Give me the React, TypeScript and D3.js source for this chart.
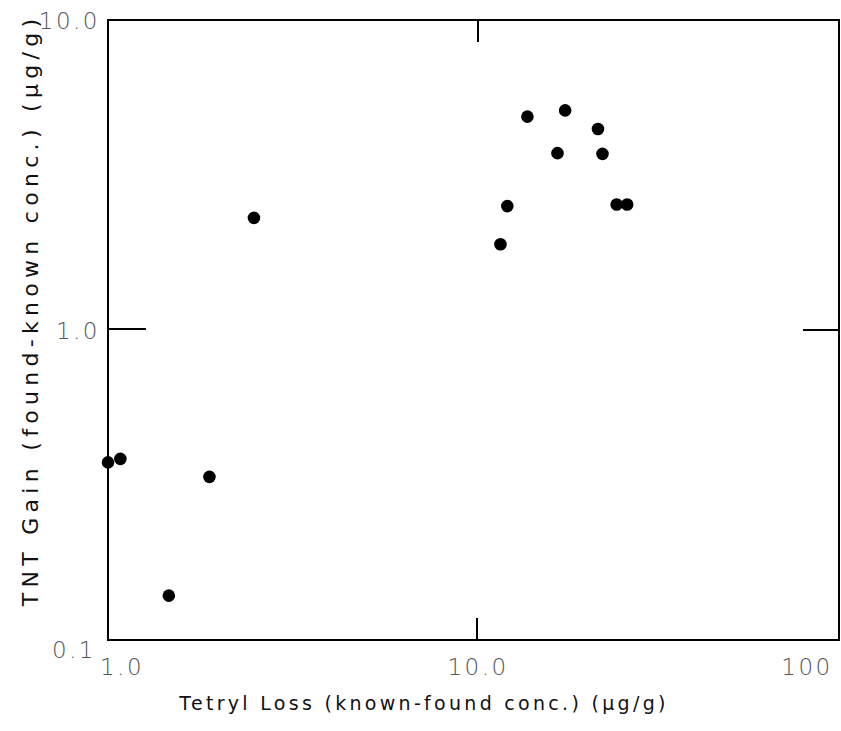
import React from "react";
import * as d3 from "d3";

const tetrylLoss = [1.0, 1.08, 1.46, 1.88, 2.48, 13.6, 17.2, 21.1, 16.4, 21.7, 12.0, 11.5, 23.7, 25.3];
const tntGain = [0.374, 0.384, 0.139, 0.336, 2.3, 4.88, 5.11, 4.45, 3.72, 3.7, 2.51, 1.89, 2.54, 2.54];
const xTickValues = [1, 10, 100];
const xTickLabels = ["1.0", "10.0", "100"];
const yTickValues = [0.1, 1, 10];
const yTickLabels = ["0.1", "1.0", "10.0"];
const xTitle = "Tetryl Loss (known-found conc.) (\u03bcg/g)";
const yTitle = "TNT Gain (found-known conc.) (\u03bcg/g)";

export default function App() {
  const W = 841, H = 731;
  const left = 108, right = 839, top = 20, bottom = 640;
  const x = d3.scaleLog().domain([1, 100]).range([left, 848]);
  const y = d3.scaleLog().domain([0.1, 10]).range([bottom, top]);
  const font = "'DejaVu Sans', sans-serif";
  const labelColor = "#555";
  return (
    <svg width={W} height={H} style={{ position: "absolute", left: 0, top: 0, background: "#fff" }}>
      <rect x={left} y={top} width={right - left} height={bottom - top} fill="none" stroke="#000" strokeWidth={2} />
      <line x1={x(10)} x2={x(10)} y1={top} y2={top + 22} stroke="#000" strokeWidth={2} />
      <line x1={x(10) - 1} x2={x(10) - 1} y1={bottom} y2={bottom - 22} stroke="#000" strokeWidth={2} />
      <line x1={left} x2={left + 38} y1={y(1) - 1} y2={y(1) - 1} stroke="#000" strokeWidth={2} />
      <line x1={right - 36} x2={right} y1={y(1)} y2={y(1)} stroke="#000" strokeWidth={2} />
      {xTickValues.map((v, i) => (
        <text key={"xt" + i} x={i === 2 ? 807 : x(v) + (i === 0 ? 14 : 0)} y={675}
          textAnchor="middle" fontFamily={font} fontWeight={200} fontSize={23} fill={labelColor} letterSpacing={2.5}>
          {xTickLabels[i]}
        </text>
      ))}
      {yTickValues.map((v, i) => (
        <text key={"yt" + i} x={i === 0 ? 96 : 100} y={y(v) + (i === 0 ? 18 : 9)}
          textAnchor="end" fontFamily={font} fontWeight={200} fontSize={23} fill={labelColor} letterSpacing={2.5}>
          {yTickLabels[i]}
        </text>
      ))}
      {tetrylLoss.map((v, i) => (
        <circle key={"p" + i} cx={x(v)} cy={y(tntGain[i])} r={6.3} fill="#000" />
      ))}
      <text x={424} y={710} textAnchor="middle" fontFamily={font} fontSize={19}
        fill="#111" letterSpacing={3.3}>{xTitle}</text>
      <text transform="translate(38,310) rotate(-90)" textAnchor="middle" fontFamily={font}
        fontSize={22} fill="#111" letterSpacing={5.3}>{yTitle}</text>
    </svg>
  );
}
